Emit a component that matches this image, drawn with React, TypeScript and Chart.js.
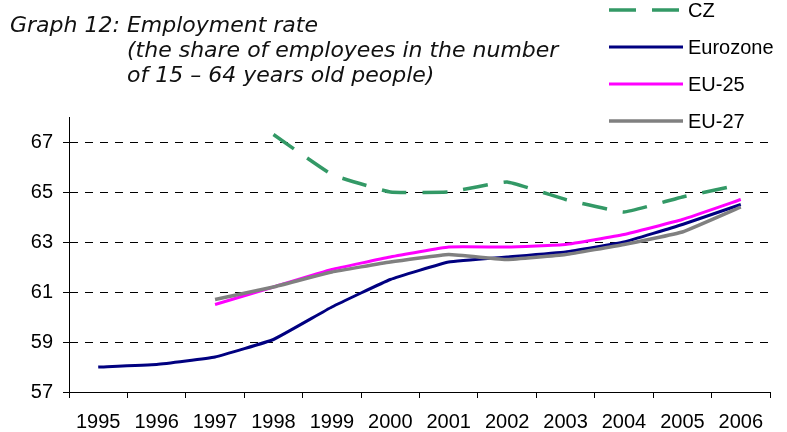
import React, { useEffect, useRef } from "react";
import { Chart, registerables } from "chart.js";

Chart.register(...registerables);

const years = ["1995", "1996", "1997", "1998", "1999", "2000", "2001", "2002", "2003", "2004", "2005", "2006"];
const czValues = [null, null, null, 67.3, 65.7, 65.0, 65.0, 65.4, 64.7, 64.2, 64.8, 65.3];
const eurozoneValues = [58.0, 58.1, 58.4, 59.1, 60.4, 61.5, 62.2, 62.4, 62.6, 63.0, 63.7, 64.5];
const eu25Values = [null, null, 60.5, 61.2, 61.9, 62.4, 62.8, 62.8, 62.9, 63.3, 63.9, 64.7];
const eu27Values = [null, null, 60.7, 61.2, 61.8, 62.2, 62.5, 62.3, 62.5, 62.9, 63.4, 64.4];
const yTickValues = [57, 59, 61, 63, 65, 67];
const seriesNames = ["CZ", "Eurozone", "EU-25", "EU-27"];
const titleLines = [
  "Graph 12: Employment rate",
  "(the share of employees in the number",
  "of 15 \u2013 64 years old people)",
];

const COLORS = ["#339966", "#000080", "#FF00FF", "#808080"];
const WIDTHS = [3.5, 3, 3, 3.5];
const CZ_DASH = [25, 16];

const overlayPlugin = {
  id: "overlay",
  afterDraw(chart: any) {
    const ctx = chart.ctx as CanvasRenderingContext2D;
    ctx.save();
    // title
    ctx.fillStyle = "#111";
    ctx.font = 'italic 22px "DejaVu Sans", Verdana, sans-serif';
    ctx.textBaseline = "alphabetic";
    ctx.textAlign = "left";
    const tPos = [
      [10, 32],
      [127, 57],
      [127, 82],
    ];
    titleLines.forEach((t, i) => ctx.fillText(t, tPos[i][0], tPos[i][1]));
    // legend
    const x0 = 609;
    const x1 = 683;
    const ys = [10, 47, 84, 121];
    seriesNames.forEach((name, i) => {
      ctx.beginPath();
      ctx.strokeStyle = COLORS[i];
      ctx.lineWidth = WIDTHS[i];
      ctx.lineCap = "butt";
      ctx.setLineDash(i === 0 ? [27, 16] : []);
      ctx.moveTo(x0, ys[i]);
      ctx.lineTo(x1, ys[i]);
      ctx.stroke();
      ctx.setLineDash([]);
      ctx.fillStyle = "#000";
      ctx.font = '20px "Liberation Sans", Arial, sans-serif';
      ctx.textBaseline = "middle";
      ctx.fillText(name, 688, ys[i] + 1);
    });
    ctx.restore();
  },
};

export default function App() {
  const canvasRef = useRef<HTMLCanvasElement | null>(null);

  useEffect(() => {
    const canvas = canvasRef.current;
    if (!canvas) return;
    const mk = (i: number, data: (number | null)[], order: number) => ({
      label: seriesNames[i],
      data,
      borderColor: COLORS[i],
      backgroundColor: COLORS[i],
      borderWidth: WIDTHS[i],
      borderDash: i === 0 ? CZ_DASH : [],
      borderCapStyle: "butt" as const,
      borderJoinStyle: "round" as const,
      pointRadius: 0,
      pointHoverRadius: 0,
      tension: 0.1,
      spanGaps: false,
      fill: false,
      order,
    });
    const chart = new Chart(canvas, {
      type: "line",
      data: {
        labels: years,
        datasets: [
          mk(0, czValues, 4),
          mk(1, eurozoneValues, 3),
          mk(2, eu25Values, 2),
          mk(3, eu27Values, 1),
        ],
      },
      options: {
        responsive: false,
        animation: false,
        devicePixelRatio: 1,
        layout: { padding: { top: 117, right: 17, left: 0, bottom: 0 } },
        plugins: {
          legend: { display: false },
          title: { display: false },
          tooltip: { enabled: false },
        },
        scales: {
          x: {
            offset: true,
            grid: {
              display: true,
              drawOnChartArea: false,
              drawTicks: true,
              tickLength: 6,
              tickColor: "#000",
              offset: true,
            },
            border: { display: true, color: "#000", width: 1 },
            ticks: {
              color: "#000",
              padding: 12,
              maxRotation: 0,
              autoSkip: false,
              font: { family: '"Liberation Sans", Arial, sans-serif', size: 20 },
            },
            afterFit: (scale: any) => {
              scale.height = 40;
            },
          },
          y: {
            min: 57,
            max: 68,
            grid: {
              display: true,
              color: "#000",
              lineWidth: 1,
              drawTicks: true,
              tickLength: 6,
              tickColor: "#000",
              tickBorderDash: [],
            },
            border: { display: true, color: "#000", width: 1, dash: [8, 7] },
            ticks: {
              color: "#000",
              padding: 10,
              font: { family: '"Liberation Sans", Arial, sans-serif', size: 20 },
            },
            afterBuildTicks: (scale: any) => {
              scale.ticks = yTickValues.map((v) => ({ value: v }));
            },
            afterFit: (scale: any) => {
              scale.width = 69;
            },
          },
        },
      },
      plugins: [overlayPlugin],
    });
    return () => chart.destroy();
  }, []);

  return (
    <div style={{ position: "fixed", left: 0, top: 0, width: 787, height: 432, background: "#fff" }}>
      <canvas ref={canvasRef} width={787} height={432} style={{ width: 787, height: 432, display: "block" }} />
    </div>
  );
}
